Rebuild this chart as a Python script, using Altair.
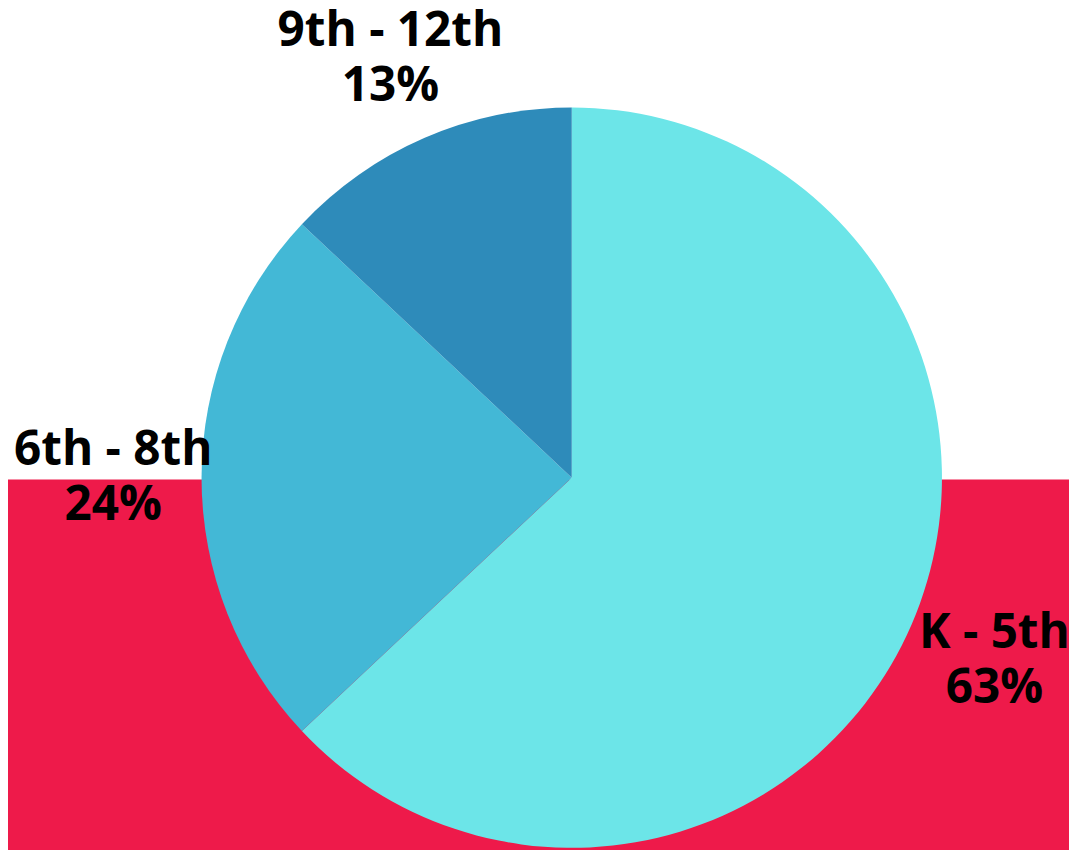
import altair as alt
import pandas as pd

grades = ["K - 5th", "6th - 8th", "9th - 12th"]
shares = [63, 24, 13]
colors = ["#6CE5E8", "#43B8D6", "#2E8BBA"]
label_radius = [464, 462, 460]

df = pd.DataFrame({
    "grade": grades,
    "share": shares,
    "order": list(range(len(grades))),
    "label": [f"{g}\n{s}%" for g, s in zip(grades, shares)],
})

W, H = 1069, 842
CX, CY = 568, 470

bg = alt.Chart(pd.DataFrame({"a": [0]})).mark_rect(color="#EE1A4A").encode(
    x=alt.value(0), x2=alt.value(1200), y=alt.value(472), y2=alt.value(1000)
)

base = alt.Chart(df).encode(
    theta=alt.Theta("share:Q", stack=True),
    order=alt.Order("order:O"),
)

pie = base.mark_arc(radius=373, stroke=None).encode(
    color=alt.Color("grade:N", scale=alt.Scale(domain=grades, range=colors), legend=None),
    x=alt.value(CX), y=alt.value(CY),
)

layers = [bg, pie]
for g, r in zip(grades, label_radius):
    layers.append(
        base.mark_text(
            radius=r, font="Open Sans", fontSize=48, fontWeight="bold", dy=-27,
            lineBreak="\n", lineHeight=56, align="center", baseline="middle", color="black",
        ).encode(
            text=alt.condition(alt.datum.grade == g, "label:N", alt.value("")),
            x=alt.value(CX), y=alt.value(CY),
        )
    )

chart = alt.layer(*layers).properties(
    width=W, height=H, padding=0,
    autosize=alt.AutoSizeParams(type="none"),
).configure_view(stroke=None)

chart.save("out.html", embed_options={"renderer": "svg", "actions": False})
